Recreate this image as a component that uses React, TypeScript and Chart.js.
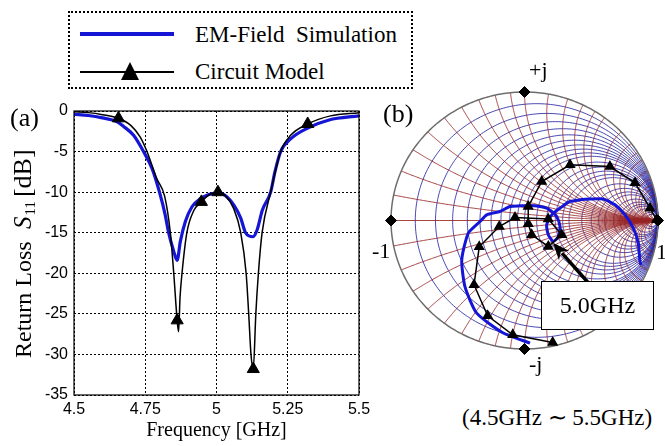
import React, { useEffect, useRef } from "react";
import { Chart, registerables } from "chart.js";

Chart.register(...registerables);

const SERIF = '"Liberation Serif", "Times New Roman", serif';
const SANS = '"Liberation Sans", Arial, sans-serif';
const BLUE = "#1515d6";

// ---------- (a) Return loss data ----------
const emFreq = [4.5, 4.55, 4.6, 4.65, 4.674, 4.709, 4.744, 4.774, 4.8, 4.82, 4.832, 4.85, 4.862, 4.873, 4.891, 4.914, 4.944, 4.973, 5.008, 5.037, 5.061, 5.085, 5.102, 5.128, 5.143, 5.161, 5.19, 5.205, 5.225, 5.261, 5.32, 5.395, 5.5];
const emDb = [-0.4, -0.55, -0.85, -1.3, -1.9, -3.0, -5.0, -7.1, -10.0, -12.8, -15.0, -17.3, -18.4, -16.1, -13.6, -11.8, -10.8, -10.3, -10.1, -10.6, -11.6, -13.2, -15.0, -15.5, -14.6, -12.2, -10.0, -7.5, -5.0, -3.4, -2.1, -1.1, -0.6];

const cmFreq = [4.5, 4.55, 4.6, 4.656, 4.7, 4.732, 4.756, 4.79, 4.818, 4.838, 4.85, 4.862, 4.867, 4.872, 4.879, 4.896, 4.92, 4.947, 4.975, 5.005, 5.03, 5.06, 5.085, 5.104, 5.113, 5.121, 5.129, 5.138, 5.147, 5.16, 5.19, 5.225, 5.26, 5.32, 5.4, 5.5];
const cmDb = [-0.1, -0.2, -0.45, -0.9, -1.8, -3.2, -5.0, -8.3, -10.5, -15.0, -20.0, -25.8, -27.2, -23.0, -20.0, -15.0, -12.3, -11.2, -10.3, -10.0, -10.4, -12.0, -15.0, -20.0, -25.0, -30.0, -31.8, -25.0, -20.0, -15.0, -10.0, -5.0, -3.0, -1.6, -0.6, -0.2];

const cmMarkFreq = [4.656, 4.862, 4.947, 5.005, 5.129, 5.32];
const cmMarkDb = [-0.9, -25.8, -11.2, -10.0, -31.8, -1.6];

const xTicks = [4.5, 4.75, 5, 5.25, 5.5];
const xTickLabels = ["4.5", "4.75", "5", "5.25", "5.5"];
const yTicks = [0, -5, -10, -15, -20, -25, -30, -35];
const yTickLabels = ["0", "-5", "-10", "-15", "-20", "-25", "-30", "-35"];

// ---------- (b) Smith chart data (reflection coefficient) ----------
const smEmRe = [0.041, -0.159, -0.358, -0.446, -0.47, -0.421, -0.333, -0.283, -0.184, -0.109, -0.034, 0.041, 0.116, 0.166, 0.204, 0.241, 0.266, 0.253, 0.216, 0.178, 0.166, 0.204, 0.266, 0.341, 0.416, 0.491, 0.59, 0.678, 0.753, 0.815, 0.852, 0.865, 0.873];
const smEmIm = [-0.954, -0.876, -0.721, -0.514, -0.306, -0.098, -0.008, 0.044, 0.07, 0.109, 0.114, 0.117, 0.109, 0.096, 0.07, 0.031, -0.047, -0.125, -0.163, -0.111, -0.033, 0.044, 0.096, 0.148, 0.161, 0.167, 0.167, 0.122, 0.044, -0.059, -0.176, -0.319, -0.345];

const smCmRe = [0.211, -0.088, -0.276, -0.378, -0.339, -0.189, -0.071, 0.178, 0.279, 0.178, 0.054, 0.028, 0.028, 0.129, 0.341, 0.64, 0.828, 0.94, 0.99];
const smCmIm = [-0.949, -0.889, -0.742, -0.5, -0.205, -0.047, 0.023, 0.011, -0.111, -0.202, -0.111, -0.026, 0.109, 0.303, 0.433, 0.42, 0.293, 0.096, 0.005];

const smRefRe = [-1, 0, 1, 0];
const smRefIm = [0, 1, 0, -1];

const smithR = [0.1, 0.2, 0.3, 0.4, 0.5, 0.6, 0.7, 0.8, 0.9, 1, 1.2, 1.4, 1.6, 1.8, 2, 2.5, 3, 3.5, 4, 5, 6, 7, 8, 10, 15, 20, 50];
const smithX = [0.1, 0.2, 0.3, 0.4, 0.5, 0.6, 0.7, 0.8, 0.9, 1, 1.2, 1.4, 1.6, 1.8, 2, 2.5, 3, 3.5, 4, 5, 6, 7, 8, 10, 15, 20, 50];

// arrow annotation (tail -> tip) in reflection-coefficient coordinates
const arrowRe = [0.491, 0.213];
const arrowIm = [-0.5, -0.174];

const zip = (a: number[], b: number[]) => a.map((v, i) => ({ x: v, y: b[i] }));

function ReturnLossChart() {
  const ref = useRef<HTMLCanvasElement>(null);
  useEffect(() => {
    const frame = {
      id: "frame",
      afterDraw(chart: any) {
        const { ctx, chartArea: a } = chart;
        ctx.save();
        ctx.strokeStyle = "#000";
        ctx.lineWidth = 1.2;
        ctx.strokeRect(a.left, a.top, a.right - a.left, a.bottom - a.top);
        // y-axis title with subscript
        ctx.fillStyle = "#000";
        ctx.textAlign = "left";
        ctx.textBaseline = "alphabetic";
        ctx.save();
        ctx.translate(31, 358 - 90);
        ctx.rotate(-Math.PI / 2);
        ctx.font = `24px ${SERIF}`;
        ctx.fillText("Return Loss", 0, 0);
        ctx.restore();
        ctx.save();
        ctx.translate(31, 229 - 90);
        ctx.rotate(-Math.PI / 2);
        ctx.font = `italic 25px ${SERIF}`;
        ctx.fillText("S", 0, 0);
        const w = ctx.measureText("S").width;
        ctx.font = `15px ${SERIF}`;
        ctx.fillText("11", w + 1, 4);
        const w2 = ctx.measureText("11").width;
        ctx.font = `26px ${SERIF}`;
        ctx.fillText("[dB]", w + 1 + w2 + 4, 0);
        ctx.restore();
        ctx.restore();
      },
    };
    const chart = new Chart(ref.current!, {
      type: "line",
      data: {
        datasets: [
          {
            label: "Circuit Model",
            data: zip(cmFreq, cmDb),
            borderColor: "#000",
            borderWidth: 1.5,
            pointRadius: 0,
            cubicInterpolationMode: "monotone",
            order: 1,
          },
          {
            label: "EM-Field Simulation",
            data: zip(emFreq, emDb),
            borderColor: BLUE,
            borderWidth: 3.2,
            pointRadius: 0,
            cubicInterpolationMode: "monotone",
            order: 2,
          },
          {
            label: "Circuit Model points",
            data: zip(cmMarkFreq, cmMarkDb),
            showLine: false,
            pointStyle: "triangle",
            pointRadius: 7,
            backgroundColor: "#000",
            borderColor: "#000",
            borderWidth: 1,
            order: 0,
            clip: false,
          } as any,
        ],
      },
      options: {
        responsive: false,
        animation: false,
        layout: { padding: { top: 21, right: 21, left: 0, bottom: 0 } },
        plugins: { legend: { display: false }, tooltip: { enabled: false } },
        scales: {
          x: {
            type: "linear",
            min: 4.5,
            max: 5.5,
            afterBuildTicks: (s: any) => {
              s.ticks = xTicks.map((v) => ({ value: v }));
            },
            afterFit: (s: any) => {
              s.height = 51;
            },
            ticks: {
              autoSkip: false,
              maxRotation: 0,
              padding: 5,
              color: "#000",
              font: { family: SANS, size: 16 },
              callback: (v: any) => {
                const i = xTicks.findIndex((t) => Math.abs(t - v) < 1e-9);
                return i >= 0 ? xTickLabels[i] : "";
              },
            },
            grid: { color: "#000", lineWidth: 1, drawTicks: false },
            border: { display: false, dash: [2, 2] },
            title: {
              display: true,
              text: "Frequency [GHz]",
              color: "#000",
              font: { family: SERIF, size: 20 },
              padding: { top: 0, bottom: 3 },
            },
          } as any,
          y: {
            type: "linear",
            min: -35,
            max: 0,
            afterBuildTicks: (s: any) => {
              s.ticks = yTicks.map((v) => ({ value: v }));
            },
            afterFit: (s: any) => {
              s.width = 74;
            },
            ticks: {
              padding: 6,
              color: "#000",
              font: { family: SANS, size: 16 },
              callback: (v: any) => {
                const i = yTicks.findIndex((t) => Math.abs(t - v) < 1e-9);
                return i >= 0 ? yTickLabels[i] : "";
              },
            },
            grid: { color: "#000", lineWidth: 1, drawTicks: false },
            border: { display: false, dash: [2, 2] },
          } as any,
        },
      },
      plugins: [frame],
    });
    return () => chart.destroy();
  }, []);
  return (
    <canvas
      ref={ref}
      width={380}
      height={356}
      style={{ position: "absolute", left: 0, top: 90, width: 380, height: 356 }}
    />
  );
}

function SmithChart() {
  const ref = useRef<HTMLCanvasElement>(null);
  useEffect(() => {
    const gamma = (r: number, x: number) => {
      const d = (r + 1) * (r + 1) + x * x;
      return [(r * r + x * x - 1) / d, (2 * x) / d];
    };
    const grid = {
      id: "smithGrid",
      beforeDatasetsDraw(chart: any) {
        const { ctx } = chart;
        const sx = chart.scales.x;
        const sy = chart.scales.y;
        const px = (g: number[]) => [sx.getPixelForValue(g[0]), sy.getPixelForValue(g[1])];
        ctx.save();
        ctx.lineWidth = 0.9;
        // constant resistance circles
        ctx.strokeStyle = "rgba(40,40,165,0.95)";
        for (const r of smithR) {
          ctx.beginPath();
          const N = 240;
          for (let k = 0; k <= N; k++) {
            const th = -Math.PI / 2 + 0.0005 + ((Math.PI - 0.001) * k) / N;
            const p = px(gamma(r, Math.tan(th)));
            if (k === 0) ctx.moveTo(p[0], p[1]);
            else ctx.lineTo(p[0], p[1]);
          }
          ctx.stroke();
        }
        // constant reactance arcs
        ctx.strokeStyle = "rgba(150,35,35,0.95)";
        for (const xv of smithX) {
          for (const sgn of [1, -1]) {
            ctx.beginPath();
            const N = 200;
            for (let k = 0; k <= N; k++) {
              const s = (0.9995 * k) / N;
              const p = px(gamma(s / (1 - s), sgn * xv));
              if (k === 0) ctx.moveTo(p[0], p[1]);
              else ctx.lineTo(p[0], p[1]);
            }
            ctx.stroke();
          }
        }
        // real axis
        ctx.beginPath();
        let p = px([-1, 0]);
        ctx.moveTo(p[0], p[1]);
        p = px([1, 0]);
        ctx.lineTo(p[0], p[1]);
        ctx.stroke();
        // outer circle
        ctx.strokeStyle = "#6d6d6d";
        ctx.lineWidth = 1.5;
        ctx.beginPath();
        for (let k = 0; k <= 360; k++) {
          const t = (k / 360) * Math.PI * 2;
          const q = px([Math.cos(t), Math.sin(t)]);
          if (k === 0) ctx.moveTo(q[0], q[1]);
          else ctx.lineTo(q[0], q[1]);
        }
        ctx.stroke();
        ctx.restore();
      },
      afterDatasetsDraw(chart: any) {
        const { ctx } = chart;
        const sx = chart.scales.x;
        const sy = chart.scales.y;
        const x1 = sx.getPixelForValue(arrowRe[0]);
        const y1 = sy.getPixelForValue(arrowIm[0]);
        const x2 = sx.getPixelForValue(arrowRe[1]);
        const y2 = sy.getPixelForValue(arrowIm[1]);
        const ang = Math.atan2(y2 - y1, x2 - x1);
        const L = 17;
        const W = 7;
        ctx.save();
        ctx.strokeStyle = "#000";
        ctx.fillStyle = "#000";
        ctx.lineWidth = 3.5;
        ctx.beginPath();
        ctx.moveTo(x1, y1);
        ctx.lineTo(x2 - Math.cos(ang) * L * 0.8, y2 - Math.sin(ang) * L * 0.8);
        ctx.stroke();
        ctx.beginPath();
        ctx.moveTo(x2, y2);
        ctx.lineTo(x2 - Math.cos(ang) * L - Math.sin(ang) * W, y2 - Math.sin(ang) * L + Math.cos(ang) * W);
        ctx.lineTo(x2 - Math.cos(ang) * L * 0.7, y2 - Math.sin(ang) * L * 0.7);
        ctx.lineTo(x2 - Math.cos(ang) * L + Math.sin(ang) * W, y2 - Math.sin(ang) * L - Math.cos(ang) * W);
        ctx.closePath();
        ctx.fill();
        ctx.restore();
      },
    };
    const chart = new Chart(ref.current!, {
      type: "scatter",
      data: {
        datasets: [
          {
            label: "EM-Field Simulation",
            data: zip(smEmRe, smEmIm),
            showLine: true,
            borderColor: BLUE,
            borderWidth: 3,
            pointRadius: 0,
            tension: 0.2,
            clip: false,
            order: 2,
          } as any,
          {
            label: "Circuit Model",
            data: zip(smCmRe, smCmIm),
            showLine: true,
            borderColor: "#000",
            backgroundColor: "#000",
            borderWidth: 1.5,
            pointStyle: "triangle",
            pointRadius: 5,
            tension: 0,
            clip: false,
            order: 1,
          } as any,
          {
            label: "reference points",
            data: zip(smRefRe, smRefIm),
            showLine: false,
            pointStyle: "rectRot",
            pointRadius: 5.5,
            backgroundColor: "#000",
            borderColor: "#000",
            clip: false,
            order: 0,
          } as any,
        ],
      },
      options: {
        responsive: false,
        animation: false,
        layout: { padding: { left: 20, right: 7, top: 20, bottom: 23 } },
        plugins: { legend: { display: false }, tooltip: { enabled: false } },
        scales: {
          x: { type: "linear", min: -1, max: 1, display: false },
          y: { type: "linear", min: -1, max: 1, display: false },
        },
      },
      plugins: [grid],
    });
    return () => chart.destroy();
  }, []);
  return (
    <canvas
      ref={ref}
      width={294}
      height={300}
      style={{ position: "absolute", left: 371, top: 72, width: 294, height: 300 }}
    />
  );
}

function Txt(props: { x: number; base: number; size: number; children: any; family?: string }) {
  const { x, base, size, children, family = SERIF } = props;
  const top = base - 0.8375 * size;
  return (
    <div
      style={{
        position: "absolute",
        left: x,
        top,
        fontFamily: family,
        fontSize: size,
        lineHeight: `${size}px`,
        whiteSpace: "pre",
        color: "#000",
      }}
    >
      {children}
    </div>
  );
}

export default function App() {
  return (
    <div
      style={{
        position: "absolute",
        left: 0,
        top: 0,
        width: 665,
        height: 446,
        overflow: "hidden",
        background: "#fff",
      }}
    >
      {/* legend */}
      <div
        style={{
          position: "absolute",
          left: 68,
          top: 11,
          width: 345,
          height: 78,
          border: "2px dotted #000",
          boxSizing: "border-box",
        }}
      />
      <div style={{ position: "absolute", left: 80, top: 32, width: 94, height: 4, background: BLUE }} />
      <div style={{ position: "absolute", left: 80, top: 71, width: 94, height: 2, background: "#000" }} />
      <div
        style={{
          position: "absolute",
          left: 121,
          top: 62,
          width: 0,
          height: 0,
          borderLeft: "9px solid transparent",
          borderRight: "9px solid transparent",
          borderBottom: "18px solid #000",
        }}
      />
      <Txt x={195} base={42} size={23}>EM-Field  Simulation</Txt>
      <Txt x={195} base={79} size={23}>Circuit Model</Txt>

      <ReturnLossChart />
      <SmithChart />

      <Txt x={10} base={127} size={26}>(a)</Txt>
      <Txt x={383} base={123} size={26}>(b)</Txt>
      <Txt x={529} base={77} size={22}>+j</Txt>
      <Txt x={529} base={371} size={22}>-j</Txt>
      <Txt x={372} base={258} size={22}>-1</Txt>
      <Txt x={656} base={259} size={22}>1</Txt>

      <div
        style={{
          position: "absolute",
          left: 541,
          top: 281,
          width: 113,
          height: 49,
          border: "1.5px solid #000",
          boxSizing: "border-box",
          background: "#fff",
          display: "flex",
          alignItems: "center",
          justifyContent: "center",
          fontFamily: SERIF,
          fontSize: 24,
          color: "#000",
        }}
      >
        5.0GHz
      </div>

      <Txt x={462} base={425} size={23}>(4.5GHz ∼ 5.5GHz)</Txt>
    </div>
  );
}
